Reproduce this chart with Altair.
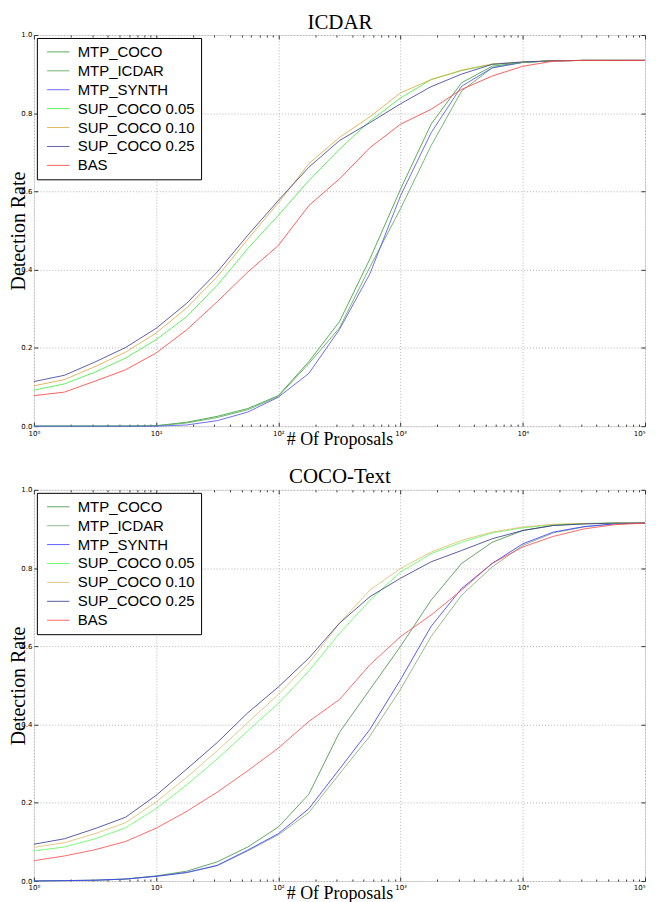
import altair as alt
import pandas as pd

proposals = [1, 1.778, 3.162, 5.623, 10, 17.78, 31.62, 56.23, 100, 177.8, 316.2,
             562.3, 1000, 1778, 3162, 5623, 10000, 17783, 31623, 56234, 100000]
series_names = ["MTP_COCO", "MTP_ICDAR", "MTP_SYNTH", "SUP_COCO 0.05",
                "SUP_COCO 0.10", "SUP_COCO 0.25", "BAS"]
decade_ticks = [1, 10, 100, 1000, 10000, 100000]
rate_ticks = [0.0, 0.2, 0.4, 0.6, 0.8, 1.0]

# ---- ICDAR ----
icdar_mtp_coco = [0, 0, 0, 0, 0.001, 0.010, 0.025, 0.045, 0.078, 0.165, 0.267,
                  0.428, 0.606, 0.772, 0.878, 0.920, 0.930, 0.934, 0.935, 0.935, 0.935]
icdar_mtp_icdar = [0, 0, 0, 0, 0.001, 0.008, 0.022, 0.042, 0.076, 0.160, 0.251,
                   0.407, 0.556, 0.717, 0.857, 0.916, 0.930, 0.934, 0.935, 0.935, 0.935]
icdar_mtp_synth = [0, 0, 0, 0, 0, 0.003, 0.014, 0.036, 0.074, 0.135, 0.247,
                   0.390, 0.589, 0.750, 0.869, 0.916, 0.930, 0.934, 0.935, 0.935, 0.935]
icdar_sup_005 = [0.092, 0.108, 0.138, 0.174, 0.221, 0.280, 0.360, 0.454, 0.539, 0.628, 0.708,
                 0.780, 0.839, 0.886, 0.909, 0.925, 0.930, 0.934, 0.935, 0.935, 0.935]
icdar_sup_010 = [0.103, 0.119, 0.152, 0.189, 0.238, 0.302, 0.382, 0.478, 0.571, 0.671, 0.738,
                 0.791, 0.852, 0.886, 0.910, 0.926, 0.931, 0.934, 0.935, 0.935, 0.935]
icdar_sup_025 = [0.114, 0.130, 0.164, 0.201, 0.250, 0.314, 0.394, 0.488, 0.577, 0.662, 0.730,
                 0.776, 0.824, 0.868, 0.900, 0.925, 0.931, 0.934, 0.935, 0.935, 0.935]
icdar_bas = [0.078, 0.087, 0.115, 0.144, 0.187, 0.246, 0.318, 0.394, 0.462, 0.564, 0.632,
             0.712, 0.772, 0.810, 0.861, 0.895, 0.920, 0.933, 0.935, 0.935, 0.935]
icdar_colors = ["#3c9f3c", "#5aaa5a", "#5555ee", "#44ee44", "#ddaa44", "#444499", "#ff4444"]

# ---- COCO-Text ----
coco_mtp_coco = [0, 0.001, 0.002, 0.005, 0.013, 0.025, 0.049, 0.087, 0.138, 0.222, 0.380,
                 0.490, 0.600, 0.718, 0.812, 0.866, 0.896, 0.909, 0.913, 0.915, 0.915]
coco_mtp_icdar = [0, 0.001, 0.002, 0.005, 0.012, 0.021, 0.039, 0.077, 0.118, 0.175, 0.274,
                  0.371, 0.490, 0.625, 0.731, 0.803, 0.858, 0.890, 0.905, 0.913, 0.915]
coco_mtp_synth = [0, 0.001, 0.002, 0.005, 0.012, 0.022, 0.040, 0.079, 0.121, 0.185, 0.286,
                  0.388, 0.515, 0.651, 0.748, 0.812, 0.862, 0.892, 0.906, 0.913, 0.915]
coco_sup_005 = [0.077, 0.087, 0.108, 0.136, 0.185, 0.246, 0.312, 0.384, 0.454, 0.537, 0.633,
                0.718, 0.790, 0.837, 0.866, 0.890, 0.903, 0.911, 0.914, 0.915, 0.915]
coco_sup_010 = [0.086, 0.098, 0.121, 0.149, 0.202, 0.265, 0.333, 0.405, 0.477, 0.557, 0.659,
                0.744, 0.799, 0.841, 0.871, 0.892, 0.905, 0.912, 0.914, 0.915, 0.915]
coco_sup_025 = [0.094, 0.108, 0.134, 0.163, 0.219, 0.286, 0.354, 0.430, 0.496, 0.570, 0.659,
                0.727, 0.774, 0.816, 0.845, 0.875, 0.896, 0.909, 0.913, 0.915, 0.915]
coco_bas = [0.052, 0.064, 0.080, 0.101, 0.135, 0.178, 0.227, 0.282, 0.340, 0.408, 0.464,
            0.553, 0.625, 0.680, 0.744, 0.812, 0.854, 0.881, 0.900, 0.911, 0.915]
coco_colors = ["#3f8f3f", "#77aa77", "#3333ff", "#55ff55", "#ddbb66", "#333388", "#ff4444"]

minor_ticks = [d * m for d in decade_ticks[:-1] for m in range(2, 10)]

W, H = 614, 393
SERIF = "Liberation Serif"
SANS = "DejaVu Sans"
LABEL_EXPR = "'10' + ['\u2070','\u00b9','\u00b2','\u00b3','\u2074','\u2075'][round(log(datum.value)/LN10)]"


def make_df(cols):
    rows = []
    for name, vals in zip(series_names, cols):
        for p, v in zip(proposals, vals):
            rows.append({"proposals": p, "rate": v, "series": name})
    return pd.DataFrame(rows)


def tick_axis(orient, values, size, offset):
    return alt.Axis(orient=orient, values=values, labels=False, domain=False, grid=False,
                    ticks=True, tickSize=size, offset=offset, tickColor="#333333",
                    tickWidth=1, title=None, minExtent=0, maxExtent=0)


def title_axis(text):
    return alt.Axis(orient="top", labels=False, ticks=False, domain=False, grid=False,
                    title=text, titleFont=SERIF, titleFontSize=21, titleFontWeight="normal",
                    titleColor="black", titleY=-7, titleBaseline="alphabetic",
                    minExtent=0, maxExtent=0)


def panel(title, cols, colors, opacity):
    df = make_df(cols)
    xs = alt.Scale(type="log", domain=[1, 100000], nice=False)
    ys = alt.Scale(domain=[0, 1], nice=False, zero=False)
    base = alt.Chart(df)

    x_main = alt.Axis(orient="bottom", values=decade_ticks, labelExpr=LABEL_EXPR,
                      ticks=False, domain=False, grid=True, gridColor="#b5b5b5",
                      gridDash=[1, 2], labelFont=SANS, labelFontSize=7, labelPadding=3,
                      labelFlush=False,
                      labelAlign={"condition": {"test": "datum.value >= 100000", "value": "right"},
                                  "value": "center"},
                      labelColor="black", title="# Of Proposals",
                      titleFont=SERIF, titleFontSize=18, titleFontWeight="normal",
                      titleColor="black", titleY=4, titleBaseline="top", minExtent=0)
    y_main = alt.Axis(orient="left", values=rate_ticks, format=".1f", ticks=False,
                      domain=False, grid=True, gridColor="#b5b5b5", gridDash=[1, 2],
                      labelFont=SANS, labelFontSize=7, labelPadding=2, labelFlush=False,
                      labelColor="black", title="Detection Rate", titleFont=SERIF,
                      titleFontSize=20, titleFontWeight="normal", titleColor="black",
                      titleX=-9, titleY=H / 2, titleAngle=-90, titleBaseline="alphabetic",
                      minExtent=0)

    lines = base.mark_line(strokeWidth=1, opacity=opacity).encode(
        x=alt.X("proposals:Q", scale=xs, axis=x_main),
        y=alt.Y("rate:Q", scale=ys, axis=y_main),
        color=alt.Color("series:N", scale=alt.Scale(domain=series_names, range=colors),
                        legend=alt.Legend(orient="top-left", offset=3, title=None,
                                          symbolType="M-0.5,0H2.5", symbolStrokeWidth=1,
                                          symbolSize=225, labelFont="Liberation Sans",
                                          labelFontSize=15, labelColor="black",
                                          labelOffset=19, rowPadding=3, padding=6,
                                          strokeColor="black", fillColor="white",
                                          cornerRadius=0)),
    )

    def ghost(xaxis, yaxis):
        return base.mark_point(opacity=0, size=1).encode(
            x=alt.X("proposals:Q", scale=xs, axis=xaxis),
            y=alt.Y("rate:Q", scale=ys, axis=yaxis),
        )

    l2 = ghost(tick_axis("bottom", decade_ticks, 4, -4), tick_axis("left", rate_ticks, 4, -4))
    l3 = ghost(tick_axis("bottom", minor_ticks, 2, -2), tick_axis("left", rate_ticks, 4, -W))
    l4 = ghost(tick_axis("bottom", decade_ticks, 4, -H), None)
    l5 = ghost(tick_axis("bottom", minor_ticks, 2, -H), None)
    l6 = ghost(title_axis(title), None)

    return alt.layer(lines, l2, l3, l4, l5, l6).resolve_axis(
        x="independent", y="independent"
    ).properties(width=W, height=H)


top = panel("ICDAR", [icdar_mtp_coco, icdar_mtp_icdar, icdar_mtp_synth, icdar_sup_005,
                      icdar_sup_010, icdar_sup_025, icdar_bas], icdar_colors, 0.85)
bottom = panel("COCO-Text", [coco_mtp_coco, coco_mtp_icdar, coco_mtp_synth, coco_sup_005,
                             coco_sup_010, coco_sup_025, coco_bas], coco_colors, 0.8)

chart = alt.vconcat(top, bottom, spacing=16).resolve_scale(color="independent").properties(
    padding=0
).configure_view(
    stroke="#555555", strokeWidth=1
).configure(background="white")

chart.save("out.html", embed_options={"renderer": "svg", "actions": False})
